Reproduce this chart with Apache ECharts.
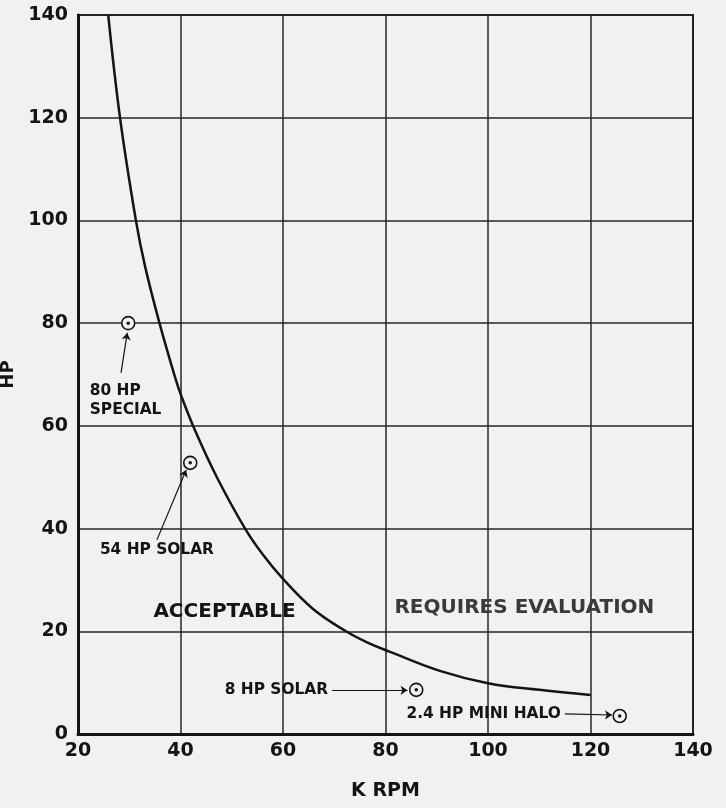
<!DOCTYPE html>
<html>
<head>
<meta charset="utf-8">
<script src="https://cdn.jsdelivr.net/npm/echarts@6/dist/echarts.min.js"></script>
<style>
html,body{margin:0;padding:0;background:#f1f1f4;}
#chart{width:726px;height:808px;}
</style>
</head>
<body>
<div id="chart"></div>
<script>
// Limit curve (K RPM vs HP)
const curveK  = [25.9, 28.2, 31.3, 33.1, 35.9, 38.9, 40.2, 42.8, 47.1, 52.6, 56.1, 60.0, 65.8, 72.3, 76.5, 80.9, 90.6, 100, 110, 120];
const curveHP = [140, 120, 100, 91, 80, 69.6, 65.7, 59.2, 50.0, 40, 34.9, 30.2, 24.4, 20, 17.8, 16, 12.3, 9.9, 8.6, 7.6];

// Named units
const unitNames = ['80 HP SPECIAL', '54 HP SOLAR', '8 HP SOLAR', '2.4 HP MINI HALO'];
const unitK  = [29.8, 41.9, 86.0, 125.7];
const unitHP = [80, 52.8, 8.6, 3.5];

// Annotation labels (data positions)
const labelTexts = ['80 HP\nSPECIAL', '54 HP SOLAR', '8 HP SOLAR', '2.4 HP MINI HALO'];
const labelK  = [22.3, 35.4, 68.8, 114.2];
const labelHP = [65.0, 35.8, 8.5, 3.9];
const labelAlign = ['left', 'center', 'right', 'right'];

// Arrows from label to unit
const arrowFromK  = [28.4, 35.4, 69.6, 115.0];
const arrowFromHP = [70.3, 37.8, 8.5, 3.9];
const arrowToK    = [29.6, 41.1, 84.3, 124.2];
const arrowToHP   = [78.1, 51.4, 8.5, 3.7];

// Region labels
const regionTexts = ['ACCEPTABLE', 'REQUIRES EVALUATION'];
const regionK  = [48.6, 107.1];
const regionHP = [23.8, 24.5];
const regionColors = ['#141414', '#3a3a3a'];

// Axes
const xMin = 20, xMax = 140, xStep = 20;
const yMin = 0, yMax = 140, yStep = 20;

const FONT = 'DejaVu Sans';
const BG = '#f1f1f4';
const chart = echarts.init(document.getElementById('chart'));

const curveData = curveK.map((k, i) => [k, curveHP[i]]);
const unitData = unitK.map((k, i) => ({ name: unitNames[i], value: [k, unitHP[i]] }));
const labelData = labelK.map((k, i) => ({
  value: [k, labelHP[i]],
  label: { formatter: labelTexts[i], align: labelAlign[i] }
}));
const arrowData = arrowFromK.map((k, i) => ({ coords: [[k, arrowFromHP[i]], [arrowToK[i], arrowToHP[i]]] }));
const regionData = regionK.map((k, i) => ({
  value: [k, regionHP[i]],
  label: { formatter: regionTexts[i], color: regionColors[i] }
}));

const textLabel = {
  show: true, position: 'inside', fontFamily: FONT, fontWeight: 'bold',
  color: '#141414', textBorderWidth: 0, textShadowBlur: 0, opacity: 1, verticalAlign: 'middle'
};

chart.setOption({
  backgroundColor: BG,
  animation: false,
  grid: {
    left: 78, right: 33, top: 15, bottom: 74, containLabel: false, outerBoundsMode: 'none',
    show: true, borderColor: '#222', borderWidth: 2
  },
  xAxis: {
    type: 'value', min: xMin, max: xMax, interval: xStep,
    name: 'K RPM', nameLocation: 'middle', nameGap: 48,
    nameTextStyle: { fontFamily: FONT, fontWeight: 'bold', fontSize: 19, color: '#141414' },
    axisLine: { show: true, lineStyle: { color: '#141414', width: 3 } },
    axisTick: { show: false },
    axisLabel: { fontFamily: FONT, fontWeight: 'bold', fontSize: 19, color: '#141414', margin: 8 },
    splitLine: { show: true, lineStyle: { color: '#262626', width: 1.5 } }
  },
  yAxis: {
    type: 'value', min: yMin, max: yMax, interval: yStep,
    name: 'HP', nameLocation: 'middle', nameGap: 25,
    nameTextStyle: { fontFamily: FONT, fontWeight: 'bold', fontSize: 18, color: '#141414' },
    axisLine: { show: true, lineStyle: { color: '#141414', width: 3 } },
    axisTick: { show: false },
    axisLabel: { fontFamily: FONT, fontWeight: 'bold', fontSize: 19, color: '#141414', margin: 10 },
    splitLine: { show: true, lineStyle: { color: '#262626', width: 1.5 } }
  },
  series: [
    {
      type: 'line', data: curveData, smooth: 0.4, showSymbol: false,
      lineStyle: { color: '#141414', width: 2.5 }, z: 3
    },
    {
      type: 'scatter', data: unitData, symbol: 'circle', symbolSize: 13,
      itemStyle: { color: BG, borderColor: '#141414', borderWidth: 1.6, opacity: 1 }, z: 5
    },
    {
      type: 'scatter', data: unitData, symbol: 'circle', symbolSize: 3.5,
      itemStyle: { color: '#141414', opacity: 1 }, z: 6
    },
    {
      type: 'lines', coordinateSystem: 'cartesian2d', data: arrowData,
      symbol: ['none', 'arrow'], symbolSize: [0, 7],
      lineStyle: { color: '#141414', width: 1.2, opacity: 1 }, z: 4
    },
    {
      type: 'scatter', data: labelData, symbolSize: 1, silent: true,
      itemStyle: { color: 'rgba(0,0,0,0)' },
      label: Object.assign({}, textLabel, { fontSize: 15.4, lineHeight: 19 }), z: 7
    },
    {
      type: 'scatter', data: regionData, symbolSize: 1, silent: true,
      itemStyle: { color: 'rgba(0,0,0,0)' },
      label: Object.assign({}, textLabel, { fontSize: 20, align: 'center' }), z: 7
    }
  ]
});
</script>
</body>
</html>
